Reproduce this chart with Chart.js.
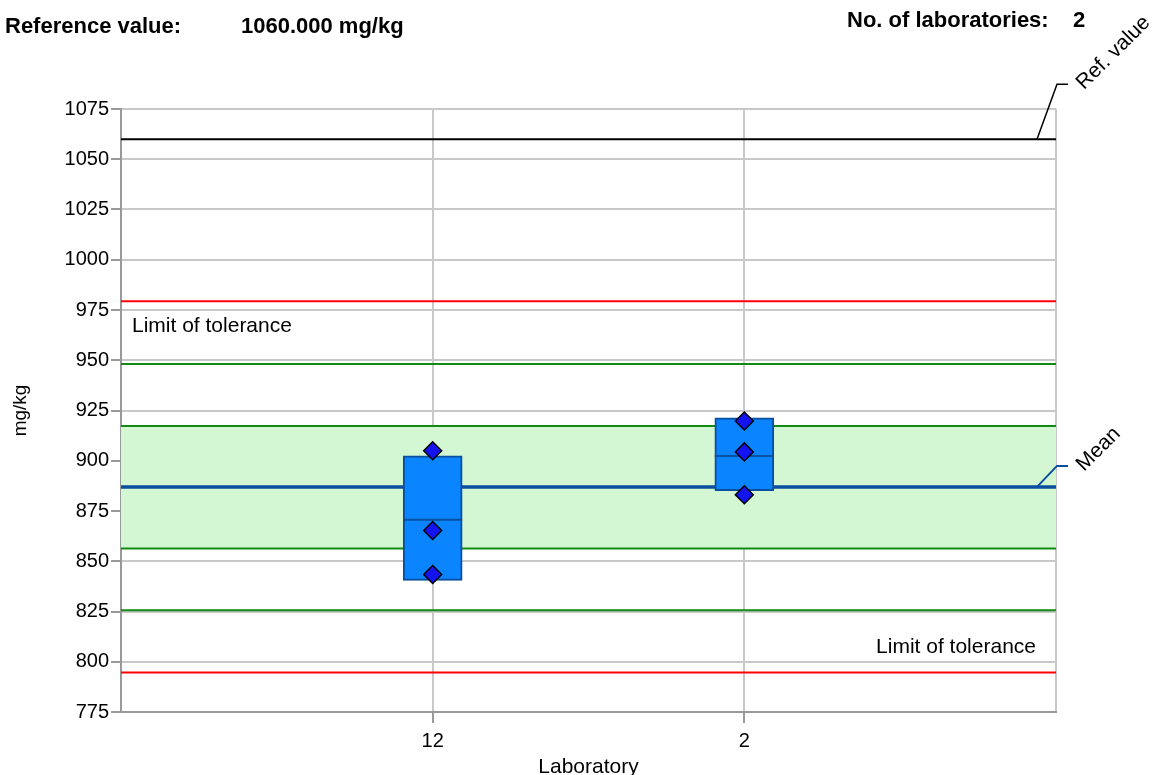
<!DOCTYPE html>
<html><head><meta charset="utf-8">
<script src="https://cdn.jsdelivr.net/npm/chart.js@4"></script>
<style>html,body{margin:0;padding:0;background:#fff}#wrap{width:1157px;height:775px}</style>
</head><body><div id="wrap"><canvas id="c" width="1157" height="775"></canvas></div>
<script>
const categories = ['', '12', '2', ''];
const labs = ['12', '2'];
const boxLow = [840.5, 885.1];
const boxHigh = [902.4, 921.3];
const medians = [870.7, 902.4];
const results = { '12': [905, 865.3, 843.4], '2': [919.8, 904.4, 883.1] };
const refValue = 1060;
const meanValue = 887;
const tolUpper = 979.3, tolLower = 794.7;
const outerUpper = 948.1, outerLower = 825.6;
const innerUpper = 917.3, innerLower = 856.3;
const yMin = 775, yMax = 1075, yStep = 25;
const nLabs = 2;

const FONT = "'Liberation Sans', Arial, sans-serif";
const flat = v => categories.map(() => v);
const pts = [];
labs.forEach(l => results[l].forEach(v => pts.push({x: l, y: v})));
const boxData = categories.map(c => { const i = labs.indexOf(c); return i < 0 ? null : [boxLow[i], boxHigh[i]]; });

const lineDs = (data, color, width, order, extra) => Object.assign({
  type: 'line', data, borderColor: color, borderWidth: width, pointRadius: 0, fill: false, order, tension: 0
}, extra || {});

const decor = {
  id: 'decor',
  afterDatasetDraw(chart, args) {
    if (args.index !== 1) return;
    const ctx = chart.ctx, x = chart.scales.x, y = chart.scales.y;
    ctx.save();
    ctx.strokeStyle = '#0a4f9e'; ctx.lineWidth = 2;
    labs.forEach((l, i) => {
      const cx = x.getPixelForValue(categories.indexOf(l));
      const py = y.getPixelForValue(medians[i]);
      ctx.beginPath(); ctx.moveTo(cx - 29.5, py); ctx.lineTo(cx + 29.5, py); ctx.stroke();
    });
    ctx.restore();
  },
  afterDraw(chart) {
    const ctx = chart.ctx, a = chart.chartArea, y = chart.scales.y;
    ctx.save();
    ctx.fillStyle = '#000';
    ctx.font = 'bold 22px ' + FONT;
    ctx.textBaseline = 'alphabetic';
    ctx.fillText('Reference value:', 5, 33);
    ctx.fillText(refValue.toFixed(3) + ' mg/kg', 241, 33);
    ctx.fillText('No. of laboratories:', 847, 27);
    ctx.fillText(String(nLabs), 1073, 27);
    ctx.font = '21px ' + FONT;
    ctx.fillText('Limit of tolerance', a.left + 11, y.getPixelForValue(tolUpper) + 31);
    ctx.textAlign = 'right';
    ctx.fillText('Limit of tolerance', a.right - 20, y.getPixelForValue(tolLower) - 19);
    ctx.textAlign = 'left';
    const leader = (val, color, w, dy, text) => {
      const py = y.getPixelForValue(val);
      ctx.strokeStyle = color; ctx.lineWidth = w;
      ctx.beginPath();
      ctx.moveTo(a.right - 19, py);
      ctx.lineTo(a.right + 1, py - dy);
      ctx.lineTo(a.right + 12, py - dy);
      ctx.stroke();
      ctx.save();
      ctx.translate(a.right + 24, py - dy + 2);
      ctx.rotate(-Math.PI / 4);
      ctx.fillStyle = '#000';
      ctx.font = '21px ' + FONT;
      ctx.textBaseline = 'middle';
      ctx.fillText(text, 0, 0);
      ctx.restore();
    };
    leader(refValue, '#000', 1.5, 55, 'Ref. value');
    leader(meanValue, '#0a4f9e', 2, 21, 'Mean');
    ctx.restore();
  }
};

new Chart(document.getElementById('c'), {
  type: 'bar',
  data: {
    labels: categories,
    datasets: [
      { type: 'line', data: pts, showLine: false, pointStyle: 'rectRot', pointRadius: 9, pointHoverRadius: 9,
        pointBackgroundColor: '#1414f0', pointBorderColor: '#000', pointBorderWidth: 1.5, order: 0 },
      { type: 'bar', data: boxData, backgroundColor: '#0a84ff', borderColor: '#0a4f9e', borderWidth: 2,
        borderSkipped: false, barThickness: 59, grouped: false, order: 1 },
      lineDs(flat(meanValue), '#0a4f9e', 3.5, 2),
      lineDs(flat(refValue), '#000', 2, 3),
      lineDs(flat(tolUpper), '#ff0000', 2, 3),
      lineDs(flat(tolLower), '#ff0000', 2, 3),
      lineDs(flat(outerUpper), '#138a13', 2, 3),
      lineDs(flat(outerLower), '#138a13', 2, 3),
      lineDs(flat(innerUpper), '#138a13', 2, 6, { fill: '+1', backgroundColor: '#d2f7d2' }),
      lineDs(flat(innerLower), '#138a13', 2, 3)
    ]
  },
  options: {
    responsive: false, animation: false, events: [],
    layout: { padding: { left: 0, top: 109, right: 101, bottom: 0 } },
    plugins: { legend: { display: false }, tooltip: { enabled: false } },
    scales: {
      x: {
        type: 'category', offset: false,
        grid: { offset: false, color: '#c8c8c8', lineWidth: 2, tickLength: 11,
                tickColor: c => (categories[c.index] ? '#999' : 'rgba(0,0,0,0)') },
        border: { color: '#999', width: 2 },
        ticks: { color: '#000', font: { family: FONT, size: 20 }, padding: 6, maxRotation: 0, autoSkip: false },
        title: { display: true, text: 'Laboratory', color: '#000', font: { family: FONT, size: 21 }, padding: { top: 0, bottom: -5 } },
        afterFit(s) { s.height = 63; }
      },
      y: {
        min: yMin, max: yMax,
        grid: { color: '#c8c8c8', lineWidth: 2, tickColor: '#999', tickLength: 10 },
        border: { color: '#999', width: 2 },
        ticks: { stepSize: yStep, color: '#000', font: { family: FONT, size: 20 }, padding: 2,
                 callback: v => String(v) },
        title: { display: true, text: 'mg/kg', color: '#000', font: { family: FONT, size: 19 }, padding: { top: 9, bottom: 0 } },
        afterFit(s) { s.width = 121; }
      }
    }
  },
  plugins: [decor]
});
</script>
</body></html>
